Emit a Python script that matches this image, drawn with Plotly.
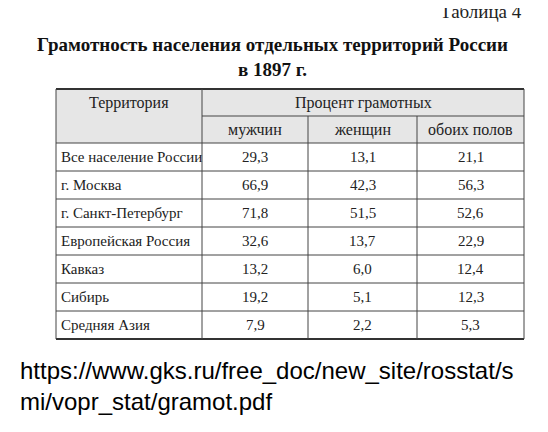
import plotly.graph_objects as go

# page body has an 8px margin, so the figure is drawn 8px smaller on each side
OFF = 8
W, H = 548 - 2 * OFF, 432 - 2 * OFF

territories = ["Все население России", "г. Москва", "г. Санкт-Петербург",
               "Европейская Россия", "Кавказ", "Сибирь", "Средняя Азия"]
men = ["29,3", "66,9", "71,8", "32,6", "13,2", "19,2", "7,9"]
women = ["13,1", "42,3", "51,5", "13,7", "6,0", "5,1", "2,2"]
both = ["21,1", "56,3", "52,6", "22,9", "12,4", "12,3", "5,3"]
sub_headers = ["мужчин", "женщин", "обоих полов"]

# table geometry in window pixels
col_x = [56, 202, 308, 417, 524]
top, mid, head_bot, row_h = 89, 116, 143, 28
bottom = head_bot + row_h * len(territories)

def px(x):
    return (x - OFF) / W

def py(y):
    return 1 - (y - OFF) / H

fig = go.Figure()
shapes = []
ann = []
font = dict(family="Liberation Serif", size=15, color="#222")
head_font = dict(family="Liberation Serif", size=16, color="#222")

# header background
shapes.append(dict(type="rect", xref="paper", yref="paper", x0=px(col_x[0]), x1=px(col_x[-1]),
                   y0=py(head_bot), y1=py(top), fillcolor="#e6e6e6", line_width=0, layer="below"))

line = dict(color="#444", width=1)
shapes.append(dict(type="line", xref="paper", yref="paper", x0=px(col_x[0]), x1=px(col_x[-1]),
                   y0=py(top), y1=py(top), line=dict(color="#333", width=2)))
shapes.append(dict(type="line", xref="paper", yref="paper", x0=px(col_x[1]), x1=px(col_x[-1]),
                   y0=py(mid), y1=py(mid), line=line))
for i in range(len(territories)):
    y = head_bot + i * row_h
    shapes.append(dict(type="line", xref="paper", yref="paper", x0=px(col_x[0]), x1=px(col_x[-1]),
                       y0=py(y), y1=py(y), line=line))
shapes.append(dict(type="line", xref="paper", yref="paper", x0=px(col_x[0]), x1=px(col_x[-1]),
                   y0=py(bottom), y1=py(bottom), line=dict(color="#333", width=2)))
for j, x in enumerate(col_x):
    y_start = mid if j in (2, 3) else top
    shapes.append(dict(type="line", xref="paper", yref="paper", x0=px(x), x1=px(x),
                       y0=py(y_start), y1=py(bottom), line=line))

# header text
ann.append(dict(x=px((col_x[0] + col_x[1]) / 2), y=py((top + mid) / 2), text="Территория", font=head_font))
ann.append(dict(x=px((col_x[1] + col_x[-1]) / 2), y=py((top + mid) / 2), text="Процент грамотных", font=head_font))
for j, s in enumerate(sub_headers):
    ann.append(dict(x=px((col_x[j + 1] + col_x[j + 2]) / 2), y=py((mid + head_bot) / 2), text=s, font=head_font))

# body
for i, name in enumerate(territories):
    yc = py(head_bot + i * row_h + row_h / 2)
    ann.append(dict(x=px(col_x[0] + 3), y=yc, text=name, xanchor="left"))
    for j, col in enumerate([men, women, both]):
        ann.append(dict(x=px((col_x[j + 1] + col_x[j + 2]) / 2), y=yc, text=col[i]))

for a in ann:
    a.setdefault("xanchor", "center")
    a.setdefault("font", font)
    a.update(xref="paper", yref="paper", yanchor="middle", showarrow=False)

# titles
ann.append(dict(x=px(524), y=py(12), text="Таблица 4", xanchor="right", yanchor="middle",
                xref="paper", yref="paper", showarrow=False,
                font=dict(family="Liberation Serif", size=19, color="#222")))
ann.append(dict(x=px(272), y=py(57), text="<b>Грамотность населения отдельных территорий России<br>в 1897 г.</b>",
                xanchor="center", yanchor="middle", xref="paper", yref="paper", showarrow=False,
                font=dict(family="Liberation Serif", size=19, color="#111")))
ann.append(dict(x=px(18), y=py(386), text="https://www.gks.ru/free_doc/new_site/rosstat/s<br>mi/vopr_stat/gramot.pdf",
                xanchor="left", yanchor="middle", align="left", xref="paper", yref="paper", showarrow=False,
                font=dict(family="Liberation Sans", size=24, color="#000")))

fig.update_layout(width=W, height=H, margin=dict(l=0, r=0, t=0, b=0),
                  paper_bgcolor="white", plot_bgcolor="white",
                  xaxis=dict(visible=False), yaxis=dict(visible=False),
                  shapes=shapes, annotations=ann)

fig.write_html("out.html")
